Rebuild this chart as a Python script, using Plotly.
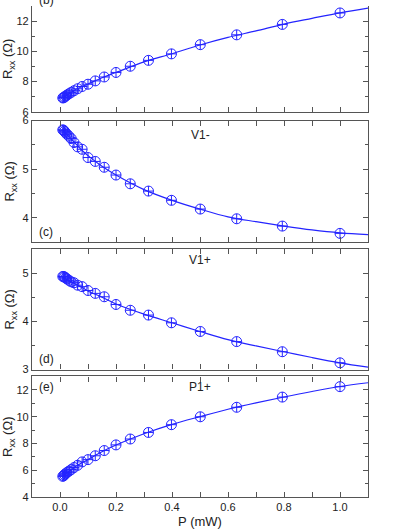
import plotly.graph_objects as go
from plotly.subplots import make_subplots

# incident power (mW), 1 dB steps
p_mw = [1.0, 0.794, 0.631, 0.501, 0.398, 0.316, 0.251, 0.200, 0.158, 0.126, 0.100,
        0.079, 0.063, 0.050, 0.040, 0.032, 0.025, 0.020, 0.016, 0.013, 0.010]

# measured Rxx (Ohm) for each panel
r_b = [12.54, 11.78, 11.09, 10.44, 9.83, 9.40, 9.01, 8.60, 8.30, 8.04, 7.82,
       7.67, 7.52, 7.39, 7.28, 7.19, 7.10, 7.04, 6.97, 6.93, 6.91]
r_c = [3.68, 3.83, 3.98, 4.18, 4.36, 4.55, 4.70, 4.88, 5.04, 5.16, 5.24,
       5.41, 5.46, 5.55, 5.63, 5.68, 5.72, 5.75, 5.78, 5.80, 5.81]
r_d = [3.14, 3.37, 3.58, 3.79, 3.97, 4.13, 4.23, 4.35, 4.51, 4.58, 4.64,
       4.72, 4.75, 4.80, 4.82, 4.85, 4.88, 4.90, 4.92, 4.93, 4.93]
r_e = [12.24, 11.46, 10.70, 9.99, 9.40, 8.82, 8.33, 7.89, 7.47, 7.08, 6.79,
       6.62, 6.37, 6.20, 6.05, 5.93, 5.83, 5.74, 5.66, 5.59, 5.54]

# fitted curves
p_fit = [0.01, 0.02, 0.04, 0.06, 0.08, 0.1, 0.15, 0.2, 0.3, 0.4, 0.5, 0.6, 0.7, 0.8, 0.9, 1.0, 1.1]
fit_b = [6.90, 7.04, 7.28, 7.50, 7.67, 7.83, 8.25, 8.60, 9.30, 9.84, 10.42, 10.92, 11.35, 11.80, 12.18, 12.55, 12.86]
fit_c = [5.81, 5.74, 5.62, 5.50, 5.38, 5.28, 5.06, 4.88, 4.58, 4.36, 4.18, 4.02, 3.92, 3.83, 3.75, 3.69, 3.655]
fit_d = [4.92, 4.88, 4.82, 4.76, 4.70, 4.63, 4.50, 4.36, 4.15, 3.97, 3.79, 3.62, 3.49, 3.37, 3.25, 3.14, 3.05]
fit_e = [5.52, 5.72, 6.04, 6.33, 6.58, 6.80, 7.38, 7.88, 8.72, 9.42, 10.00, 10.55, 11.03, 11.47, 11.88, 12.25, 12.53]

panels = [
    # data, fit, y range, major step, label, name
    (r_b, fit_b, [6, 13], 2, "(b)", ""),
    (r_c, fit_c, [3.5, 6], 1, "(c)", "V1-"),
    (r_d, fit_d, [3, 5.5], 1, "(d)", "V1+"),
    (r_e, fit_e, [4, 13], 2, "(e)", "P1+"),
]

BLUE = "#2424ff"
INK = "#555555"
FONT = "Liberation Sans, Arial, sans-serif"

fig = make_subplots(rows=4, cols=1, shared_xaxes=True, vertical_spacing=0.015)

# plot area in px (top, bottom) inside a 497 px high region
boxes = [(0, 107), (116, 239), (246, 368), (375, 497)]
H = 497.0

for i, (r, fit, yr, step, lab, name) in enumerate(panels):
    row = i + 1
    fig.add_trace(go.Scatter(x=p_fit, y=fit, mode="lines", line=dict(color=BLUE, width=1.2),
                             line_shape="spline", showlegend=False, hoverinfo="skip"), row=row, col=1)
    fig.add_trace(go.Scatter(x=p_mw, y=r, mode="markers",
                             marker=dict(symbol="circle-cross-open", size=10, color=BLUE,
                                         line=dict(width=1, color=BLUE)),
                             showlegend=False), row=row, col=1)
    top, bot = boxes[i]
    fig.update_yaxes(row=row, col=1, range=yr, dtick=step, domain=[(H - bot) / H, (H - top) / H],
                     ticks="inside", ticklen=5, tickwidth=1, tickcolor=INK,
                     showline=True, linecolor=INK, linewidth=1.3, mirror="ticks",
                     minor=dict(ticks="inside", ticklen=3, dtick=step / 2, tickcolor=INK),
                     showgrid=False, zeroline=False,
                     tickfont=dict(size=11, color="#222"),
                     title=dict(text="R<sub>xx</sub> (Ω)", font=dict(size=13, color="#222"), standoff=4))
    fig.update_xaxes(row=row, col=1, range=[-0.1, 1.1], dtick=0.2,
                     ticks="inside", ticklen=5, tickwidth=1, tickcolor=INK,
                     showline=True, linecolor=INK, linewidth=1.3,
                     mirror=("ticks" if i > 0 else False),
                     minor=dict(ticks="inside", ticklen=5, dtick=0.1, tickcolor=INK),
                     showgrid=False, zeroline=False, tickformat=".1f",
                     tickfont=dict(size=11, color="#222"))

    xr = "x" if i == 0 else "x%d" % row
    yd = ("y" if i == 0 else "y%d" % row) + " domain"
    if lab == "(b)":
        # top panel is cropped by the window, only the bottom of its label shows
        fig.add_annotation(text=lab, x=-0.05, xref=xr, y=1.0, yref=yd, yanchor="middle",
                           yshift=6, showarrow=False, font=dict(size=12, color="#222"))
    elif lab == "(e)":
        fig.add_annotation(text=lab, x=-0.05, xref=xr, y=0.916, yref=yd, yanchor="middle",
                           showarrow=False, font=dict(size=12, color="#222"))
    else:
        fig.add_annotation(text=lab, x=-0.05, xref=xr, y=0.087, yref=yd, yanchor="middle",
                           showarrow=False, font=dict(size=12, color="#222"))
    if name:
        ny = {"V1-": 0.885, "V1+": 0.905, "P1+": 0.916}[name]
        fig.add_annotation(text=name, x=0.5, xref=xr, y=ny, yref=yd, yanchor="middle",
                           showarrow=False, font=dict(size=12, color="#222"))

fig.update_xaxes(row=4, col=1, title=dict(text="P (mW)", font=dict(size=13, color="#222"), standoff=6))

fig.update_layout(
    width=409, height=529,
    margin=dict(l=32, r=41, t=0, b=32),
    paper_bgcolor="white", plot_bgcolor="white",
    font=dict(family=FONT, color="#222"),
)

# page has no body margin so the figure sits at the window corner
fig.write_html("out.html", config={"displayModeBar": False},
               post_script="document.body.style.margin='0';")
